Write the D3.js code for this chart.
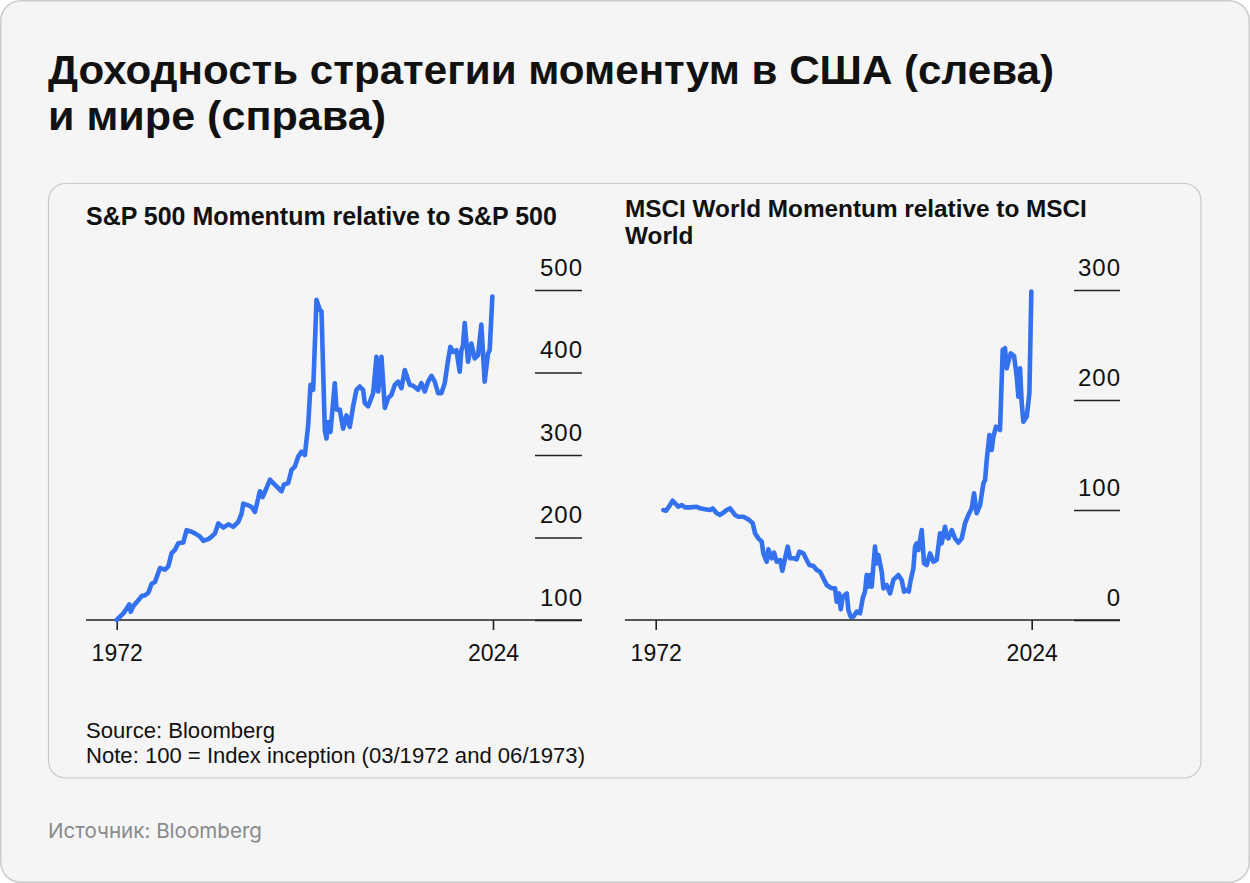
<!DOCTYPE html>
<html>
<head>
<meta charset="utf-8">
<script src="https://cdn.jsdelivr.net/npm/d3@7"></script>
<style>
  body { margin: 0; background: #ffffff; }
  svg { display: block; }
</style>
</head>
<body>
<svg id="chart" width="1250" height="883"></svg>
<script>
// S&P 500 Momentum relative to S&P 500 (100 = 03/1972)
const usYears = [1972.00, 1972.46, 1972.92, 1973.38, 1973.75, 1973.93, 1974.30, 1974.99, 1975.45, 1975.91,
  1976.37, 1976.83, 1977.29, 1977.98, 1978.67, 1979.13, 1979.59, 1980.05, 1980.51, 1981.20,
  1981.66, 1982.35, 1982.81, 1983.51, 1983.97, 1984.66, 1985.12, 1985.58, 1986.04, 1986.73,
  1987.42, 1988.11, 1988.80, 1989.26, 1989.49, 1990.18, 1990.64, 1991.10, 1991.79, 1992.16,
  1992.71, 1993.17, 1993.63, 1994.09, 1994.78, 1995.10, 1995.70, 1996.16, 1996.62, 1997.08,
  1997.54, 1998.00, 1998.46, 1998.78, 1999.15, 1999.61, 2000.07, 2000.30, 2000.76, 2000.99,
  2001.22, 2001.54, 2002.14, 2002.37, 2002.83, 2003.29, 2003.75, 2004.21, 2004.67, 2005.13,
  2005.59, 2006.05, 2006.28, 2006.74, 2007.44, 2007.90, 2008.13, 2008.59, 2009.05, 2009.51,
  2009.97, 2010.43, 2010.89, 2011.35, 2011.81, 2012.27, 2012.50, 2012.96, 2013.65, 2014.11,
  2014.57, 2015.03, 2015.49, 2015.95, 2016.41, 2016.87, 2017.33, 2017.79, 2018.11, 2018.48,
  2018.94, 2019.40, 2019.63, 2019.86, 2020.09, 2020.55, 2021.01, 2021.47, 2021.93, 2022.39,
  2022.85, 2023.31, 2023.54, 2023.91];
const usValues = [100, 104, 108, 114, 119, 110, 117, 124, 129, 130,
  133, 144, 146, 163, 161, 165, 181, 185, 193, 194,
  209, 207, 205, 201, 196, 198, 201, 205, 217, 212,
  216, 213, 219, 229, 241, 239, 237, 231, 256, 249,
  260, 270, 266, 262, 256, 264, 266, 282, 286, 298,
  304, 300, 336, 385, 379, 488, 476, 474, 330, 320,
  340, 328, 387, 355, 355, 332, 348, 334, 359, 379,
  383, 379, 363, 359, 375, 419, 377, 419, 357, 369,
  373, 385, 389, 381, 403, 391, 385, 384, 379, 387,
  377, 389, 396, 389, 375, 375, 387, 415, 431, 425,
  427, 401, 427, 433, 460, 413, 435, 417, 421, 458,
  389, 423, 427, 492];

// MSCI World Momentum relative to MSCI World (rebased, 06/1973 = 100)
const worldYears = [1973.06, 1973.43, 1973.89, 1974.35, 1974.67, 1975.13, 1975.60, 1976.06, 1976.75, 1977.67,
  1978.13, 1978.82, 1979.51, 1979.88, 1980.44, 1980.90, 1981.36, 1981.82, 1982.28, 1982.97,
  1983.43, 1984.12, 1984.82, 1985.42, 1985.74, 1986.20, 1986.66, 1986.89, 1987.35, 1987.58,
  1988.04, 1988.37, 1988.73, 1989.20, 1989.52, 1989.89, 1990.26, 1990.58, 1991.04, 1991.50,
  1991.87, 1992.42, 1992.88, 1993.25, 1993.81, 1994.27, 1994.73, 1995.19, 1995.65, 1996.34,
  1996.80, 1997.03, 1997.36, 1997.59, 1997.86, 1998.18, 1998.42, 1998.65, 1998.97, 1999.34,
  1999.80, 2000.26, 2000.63, 2000.95, 2001.18, 2001.41, 2001.64, 2001.87, 2002.33, 2002.56,
  2002.79, 2003.26, 2003.49, 2003.95, 2004.41, 2004.87, 2005.56, 2006.02, 2006.34, 2006.62,
  2006.99, 2007.27, 2007.64, 2007.87, 2008.10, 2008.33, 2008.79, 2009.11, 2009.48, 2009.94,
  2010.40, 2010.86, 2011.32, 2011.55, 2012.01, 2012.25, 2012.48, 2012.94, 2013.40, 2013.86,
  2014.32, 2014.78, 2015.24, 2015.70, 2016.03, 2016.39, 2016.86, 2017.32, 2017.55, 2017.78,
  2018.15, 2018.47, 2018.70, 2019.07, 2019.62, 2019.99, 2020.31, 2020.54, 2020.77, 2021.10,
  2021.56, 2021.93, 2022.16, 2022.39, 2022.62, 2022.85, 2023.31, 2023.68, 2023.95];
const worldValues = [100.0, 99.4, 103.6, 108.5, 106.1, 103.0, 104.5, 102.4, 102.4, 103.0,
  101.5, 100.6, 100.0, 101.5, 97.0, 95.5, 97.6, 100.0, 101.5, 95.5,
  93.9, 93.9, 91.5, 87.9, 78.8, 74.2, 71.2, 60.6, 53.0, 64.2,
  56.1, 61.2, 53.0, 54.5, 44.8, 56.1, 66.7, 56.1, 56.1, 55.2,
  62.1, 60.6, 54.5, 50.0, 49.1, 45.5, 43.9, 37.9, 31.8, 28.8,
  28.8, 16.7, 24.2, 9.7, 21.2, 22.7, 24.2, 9.1, 3.0, 3.0,
  7.6, 6.1, 19.7, 25.8, 40.9, 30.3, 40.9, 30.3, 66.7, 51.5,
  59.1, 43.9, 28.8, 31.8, 24.2, 36.4, 40.9, 36.4, 25.8, 27.3,
  25.8, 36.4, 47.0, 66.7, 69.7, 63.6, 81.8, 51.5, 50.0, 60.6,
  53.0, 54.5, 78.8, 69.7, 84.8, 75.8, 74.2, 81.8, 74.2, 70.3,
  74.2, 87.9, 95.5, 101.5, 115.2, 97.0, 104.5, 124.2, 127.3, 145.5,
  168.2, 154.5, 166.7, 175.8, 172.7, 245.5, 247.0, 228.8, 234.8, 242.4,
  240.0, 221.2, 203.0, 228.8, 197.0, 180.3, 184.8, 206.1, 298.5];

const usTicks = [100, 200, 300, 400, 500];
const worldTicks = [0, 100, 200, 300];
const yearTicks = [1972, 2024];
const titleLines = ["Доходность стратегии моментум в США (слева)", "и мире (справа)"];

const LINE_COLOR = "#3371ee";
const INK = "#111111";

const svg = d3.select("#chart");

// outer frame and inner card
svg.append("rect")
  .attr("x", 0.75).attr("y", 0.75)
  .attr("width", 1248.5).attr("height", 881.5)
  .attr("rx", 20)
  .attr("fill", "#f5f5f5")
  .attr("stroke", "#cccccc")
  .attr("stroke-width", 1.5);

svg.append("rect")
  .attr("x", 48.5).attr("y", 183.5)
  .attr("width", 1152.5).attr("height", 594.5)
  .attr("rx", 17)
  .attr("fill", "#f5f5f5")
  .attr("stroke", "#c9c9c9")
  .attr("stroke-width", 1.2);

// title: condensed face, each line stretched to the original's width
const title = svg.append("text")
  .attr("font-family", "'Liberation Sans Narrow', 'Liberation Sans', Arial, sans-serif")
  .attr("font-weight", 700)
  .attr("font-size", 41)
  .attr("fill", INK);
const titleWidths = [1006, 338];
title.selectAll("tspan")
  .data(titleLines)
  .join("tspan")
  .attr("x", 48)
  .attr("y", (d, i) => 83.5 + i * 46.5)
  .attr("textLength", (d, i) => titleWidths[i])
  .attr("lengthAdjust", "spacingAndGlyphs")
  .text(d => d);

// scale font size so a label spans a given width
function fitWidth(sel, width) {
  const w = sel.node().getComputedTextLength();
  const fs = parseFloat(sel.attr("font-size"));
  sel.attr("font-size", (fs * width / w).toFixed(2));
}

const subFont = "'Liberation Sans', Arial, Helvetica, sans-serif";

function panel(opts) {
  const g = svg.append("g");

  opts.title.forEach((t, i) => {
    const s = g.append("text")
      .attr("x", opts.left).attr("y", opts.titleY + i * 27)
      .attr("font-family", subFont)
      .attr("font-weight", 700)
      .attr("font-size", 22)
      .attr("fill", INK)
      .text(t);
    if (i === 0) fitWidth(s, opts.titleWidth);
    else s.attr("font-size", g.select("text").attr("font-size"));
  });

  const x = d3.scaleLinear().domain([1972, 2024]).range(opts.xRange);
  const y = d3.scaleLinear().domain(opts.yDomain).range([620, 290]);

  // y gridline stubs with labels sitting above them
  const yAxis = g.append("g")
    .attr("transform", `translate(${opts.gridX},0)`)
    .call(d3.axisRight(y).tickValues(opts.yTicks).tickSize(opts.right - opts.gridX).tickFormat(d3.format("d")));
  yAxis.select(".domain").remove();
  yAxis.selectAll(".tick line").attr("stroke", "#222").attr("stroke-width", 1.6);
  yAxis.selectAll(".tick text")
    .attr("x", opts.right - opts.gridX + 1)
    .attr("dy", -15)
    .attr("text-anchor", "end")
    .attr("font-family", subFont)
    .attr("font-size", 24)
    .attr("letter-spacing", 1)
    .attr("fill", INK);

  // baseline
  g.append("line")
    .attr("x1", opts.left).attr("x2", opts.right)
    .attr("y1", y(opts.yDomain[0])).attr("y2", y(opts.yDomain[0]))
    .attr("stroke", "#222").attr("stroke-width", 1.6);

  const xAxis = g.append("g")
    .attr("transform", `translate(0,${y(opts.yDomain[0])})`)
    .call(d3.axisBottom(x).tickValues(yearTicks).tickSize(10).tickFormat(d3.format("d")));
  xAxis.select(".domain").remove();
  xAxis.selectAll(".tick line").attr("stroke", "#222").attr("stroke-width", 1.6);
  xAxis.selectAll(".tick text")
    .attr("y", 0).attr("dy", 41)
    .attr("font-family", subFont)
    .attr("font-size", 23)
    .attr("fill", INK);

  const line = d3.line()
    .x((d, i) => x(opts.years[i]))
    .y(d => y(d));

  g.append("path")
    .datum(opts.values)
    .attr("d", line)
    .attr("fill", "none")
    .attr("stroke", LINE_COLOR)
    .attr("stroke-width", 4.6)
    .attr("stroke-linejoin", "round")
    .attr("stroke-linecap", "round");
}

panel({
  title: ["S&P 500 Momentum relative to S&P 500"],
  titleY: 225, titleWidth: 471,
  left: 86, right: 582, gridX: 535,
  xRange: [116.7, 493],
  yDomain: [100, 500], yTicks: usTicks,
  years: usYears, values: usValues
});

panel({
  title: ["MSCI World Momentum relative to MSCI", "World"],
  titleY: 217, titleWidth: 462,
  left: 625, right: 1120, gridX: 1074,
  xRange: [655.7, 1031.7],
  yDomain: [0, 300], yTicks: worldTicks,
  years: worldYears, values: worldValues
});

// notes inside the card
const note = svg.append("g")
  .attr("font-family", subFont)
  .attr("fill", INK);
const n2 = note.append("text").attr("x", 86).attr("y", 763).attr("font-size", 19.5)
  .text("Note: 100 = Index inception (03/1972 and 06/1973)");
fitWidth(n2, 499);
note.append("text").attr("x", 86).attr("y", 738).attr("font-size", n2.attr("font-size")).text("Source: Bloomberg");

// footer
const foot = svg.append("text")
  .attr("x", 48).attr("y", 838)
  .attr("font-family", "Inter, Roboto, sans-serif")
  .attr("font-size", 19)
  .attr("fill", "#8a8a8a")
  .text("Источник: Bloomberg");
fitWidth(foot, 214);
</script>
</body>
</html>
